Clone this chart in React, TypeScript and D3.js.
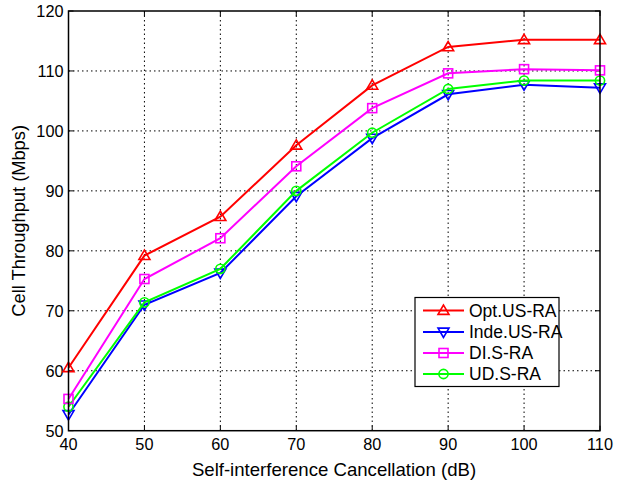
import React from "react";
import * as d3 from "d3";

const xValues = [40, 50, 60, 70, 80, 90, 100, 110];
const optUS = [60.5, 79.2, 85.7, 97.6, 107.6, 114.0, 115.2, 115.2];
const indeUS = [52.7, 71.0, 76.3, 89.1, 98.8, 106.1, 107.7, 107.2];
const diS = [55.3, 75.3, 82.1, 94.1, 103.8, 109.6, 110.3, 110.1];
const udS = [54.0, 71.4, 77.0, 90.0, 99.7, 107.0, 108.4, 108.4];
const xTicks = [40, 50, 60, 70, 80, 90, 100, 110];
const yTicks = [50, 60, 70, 80, 90, 100, 110, 120];
const seriesNames = ["Opt.US-RA", "Inde.US-RA", "DI.S-RA", "UD.S-RA"];

const W = 617, H = 486;
const L = 68.5, R = 600, T = 11, B = 430.7;
const FONT = "'Liberation Sans', Arial, Helvetica, sans-serif";

type Marker = "tri" | "tridown" | "square" | "circle";

function MarkerShape({ kind, x, y, color }: { kind: Marker; x: number; y: number; color: string }) {
  const s = 5.5;
  const common = { fill: "none", stroke: color, strokeWidth: 1.6 } as const;
  if (kind === "tri") {
    return <polygon {...common} points={`${x},${y - s} ${x - s},${y + s * 0.7} ${x + s},${y + s * 0.7}`} />;
  }
  if (kind === "tridown") {
    return <polygon {...common} points={`${x},${y + s} ${x - s},${y - s * 0.7} ${x + s},${y - s * 0.7}`} />;
  }
  if (kind === "square") {
    return <rect {...common} x={x - 4.5} y={y - 4.5} width={9} height={9} />;
  }
  return <circle {...common} cx={x} cy={y} r={4.6} />;
}

export default function App() {
  const x = d3.scaleLinear().domain([40, 110]).range([L, R]);
  const y = d3.scaleLinear().domain([50, 120]).range([B, T]);
  const line = d3
    .line<number>()
    .x((_, i) => x(xValues[i]))
    .y((d) => y(d));

  const series: { name: string; data: number[]; color: string; marker: Marker }[] = [
    { name: seriesNames[0], data: optUS, color: "#ff0000", marker: "tri" },
    { name: seriesNames[1], data: indeUS, color: "#0000ff", marker: "tridown" },
    { name: seriesNames[2], data: diS, color: "#ff00ff", marker: "square" },
    { name: seriesNames[3], data: udS, color: "#00ff00", marker: "circle" },
  ];
  const drawOrder = [1, 3, 2, 0];

  const legX = 415, legY = 297.5, legW = 144, legH = 89;
  const rowY = [310.5, 332, 353, 374];

  return (
    <svg width={W} height={H} style={{ position: "absolute", left: 0, top: 0, background: "#fff" }}>
      <rect x={0} y={0} width={W} height={H} fill="#fff" />
      {/* grid */}
      {xTicks.slice(1, -1).map((t) => (
        <line key={"gx" + t} x1={x(t)} x2={x(t)} y1={T} y2={B} stroke="#000" strokeWidth={1} strokeDasharray="1.5,3" />
      ))}
      {yTicks.slice(1, -1).map((t) => (
        <line key={"gy" + t} x1={L} x2={R} y1={y(t)} y2={y(t)} stroke="#000" strokeWidth={1} strokeDasharray="1.5,3" />
      ))}
      {/* ticks */}
      {xTicks.map((t) => (
        <g key={"tx" + t}>
          <line x1={x(t)} x2={x(t)} y1={B} y2={B - 5} stroke="#000" />
          <line x1={x(t)} x2={x(t)} y1={T} y2={T + 5} stroke="#000" />
          <text x={x(t)} y={B + 19} textAnchor="middle" fontFamily={FONT} fontSize={16.3}>
            {t}
          </text>
        </g>
      ))}
      {yTicks.map((t) => (
        <g key={"ty" + t}>
          <line x1={L} x2={L + 5} y1={y(t)} y2={y(t)} stroke="#000" />
          <line x1={R} x2={R - 5} y1={y(t)} y2={y(t)} stroke="#000" />
          <text x={L - 5} y={y(t) + 6} textAnchor="end" fontFamily={FONT} fontSize={16.3}>
            {t}
          </text>
        </g>
      ))}
      {/* series */}
      {drawOrder.map((si) => {
        const s = series[si];
        return (
          <g key={s.name}>
            <path d={line(s.data) || ""} fill="none" stroke={s.color} strokeWidth={2} />
            {s.data.map((v, i) => (
              <MarkerShape key={i} kind={s.marker} x={x(xValues[i])} y={y(v)} color={s.color} />
            ))}
          </g>
        );
      })}
      {/* axes box */}
      <rect x={L} y={T} width={R - L} height={B - T} fill="none" stroke="#000" strokeWidth={1.5} />
      {/* legend */}
      <rect x={legX} y={legY} width={legW} height={legH} fill="#fff" stroke="#000" strokeWidth={1.2} />
      {series.map((s, i) => (
        <g key={"leg" + s.name}>
          <line x1={423} x2={464} y1={rowY[i]} y2={rowY[i]} stroke={s.color} strokeWidth={2} />
          <MarkerShape kind={s.marker} x={443.5} y={rowY[i]} color={s.color} />
          <text x={469} y={rowY[i] + 6} fontFamily={FONT} fontSize={17.5}>
            {s.name}
          </text>
        </g>
      ))}
      {/* axis labels */}
      <text x={334} y={476} textAnchor="middle" fontFamily={FONT} fontSize={18.6}>
        Self-interference Cancellation (dB)
      </text>
      <text
        transform={`translate(25, ${(T + B) / 2}) rotate(-90)`}
        textAnchor="middle"
        fontFamily={FONT}
        fontSize={18.3}
      >
        Cell Throughput (Mbps)
      </text>
    </svg>
  );
}
